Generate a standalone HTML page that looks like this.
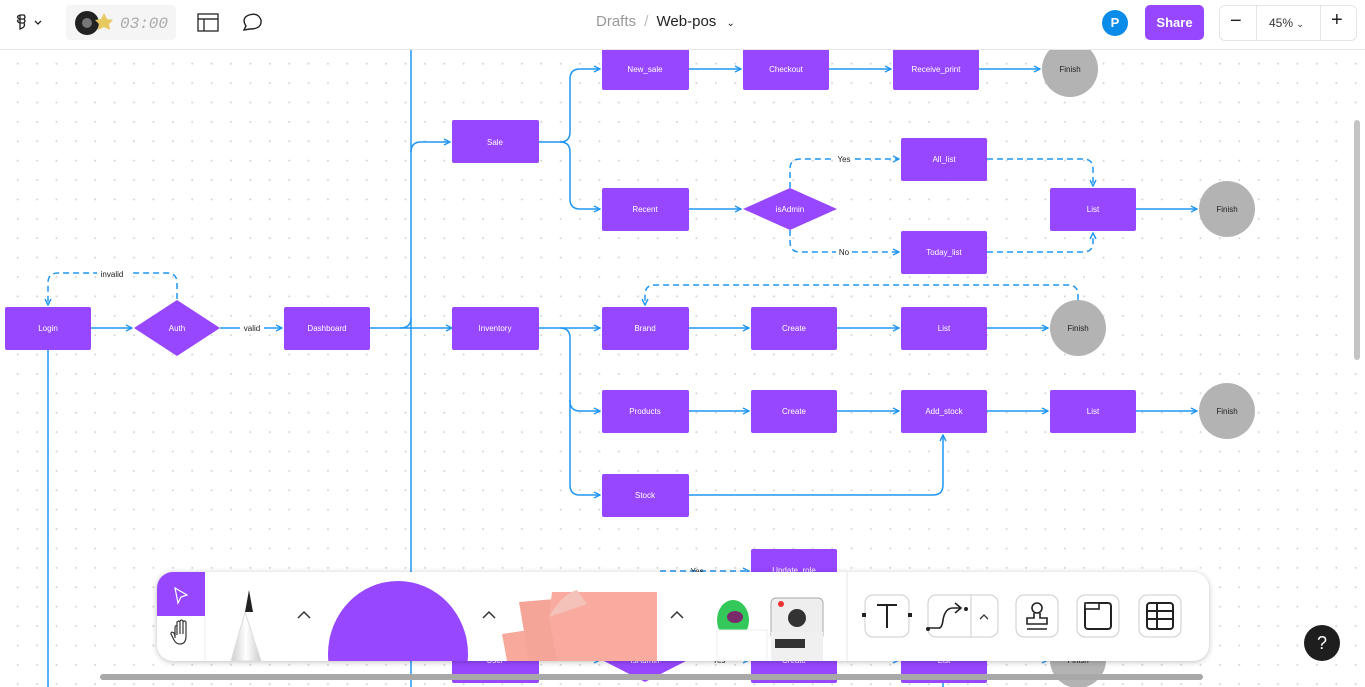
<!DOCTYPE html>
<html><head><meta charset="utf-8"><style>
*{margin:0;padding:0;box-sizing:border-box}
body{width:1365px;height:687px;overflow:hidden;font-family:"Liberation Sans",sans-serif;background:#fff;position:relative}
#canvas{position:absolute;left:0;top:50px;width:1365px;height:637px;background-color:#fff;background-image:radial-gradient(circle,#d4d4d4 0.8px,transparent 1.2px);background-size:19.4px 19.4px;background-position:8px 4px}
#hdr{position:absolute;left:0;top:0;width:1365px;height:50px;background:#fff;border-bottom:1px solid #e6e6e6}
.tb{position:absolute;left:157px;top:572px;width:1052px;height:89px;background:#fff;border-radius:16px;box-shadow:0 1px 6px rgba(0,0,0,.25);overflow:hidden}
</style></head><body>
<div id="canvas"></div>
<svg width="1365" height="687" style="position:absolute;left:0;top:0" font-family="Liberation Sans, sans-serif">
<defs><marker id="a" markerWidth="8" markerHeight="8" refX="7" refY="4" orient="auto" markerUnits="userSpaceOnUse"><path d="M1,1 L7,4 L1,7" fill="none" stroke="#2196f3" stroke-width="1.4"/></marker></defs>
<g fill="none" stroke="#2196f3" stroke-width="1.5">
<path d="M411 50V687"/><path d="M48 350V687"/>
<path d="M91 328H132" marker-end="url(#a)"/>
<path d="M220 328H282" marker-end="url(#a)"/>
<path d="M370 328H452" marker-end="url(#a)"/>
<path d="M400 328Q411 328 411 318"/>
<path d="M411 152Q411 142 421 142H450" marker-end="url(#a)"/>
<path d="M539 142H560Q570 142 570 132V79Q570 69 580 69H600" marker-end="url(#a)"/>
<path d="M560 142Q570 142 570 152V199Q570 209 580 209H600" marker-end="url(#a)"/>
<path d="M689 69H741" marker-end="url(#a)"/><path d="M829 69H891" marker-end="url(#a)"/><path d="M979 69H1040" marker-end="url(#a)"/>
<path d="M689 209H741" marker-end="url(#a)"/>
<path d="M1136 209H1197" marker-end="url(#a)"/>
<path d="M539 328H600" marker-end="url(#a)"/>
<path d="M560 328Q570 328 570 338V401Q570 411 580 411H600" marker-end="url(#a)"/>
<path d="M570 400V485Q570 495 580 495H600" marker-end="url(#a)"/>
<path d="M689 328H749" marker-end="url(#a)"/><path d="M837 328H899" marker-end="url(#a)"/><path d="M987 328H1048" marker-end="url(#a)"/>
<path d="M689 411H749" marker-end="url(#a)"/><path d="M837 411H899" marker-end="url(#a)"/><path d="M987 411H1048" marker-end="url(#a)"/><path d="M1136 411H1197" marker-end="url(#a)"/>
<path d="M689 495H933Q943 495 943 485V435" marker-end="url(#a)"/>
<path d="M539 660H600" marker-end="url(#a)"/><path d="M689 660H749" marker-end="url(#a)"/><path d="M837 660H899" marker-end="url(#a)"/><path d="M987 660H1048" marker-end="url(#a)"/>
<path d="M943 683V687"/>
</g>
<g fill="none" stroke="#2196f3" stroke-width="1.5" stroke-dasharray="6,4">
<path d="M177 299V283Q177 273 167 273H58Q48 273 48 283V305" marker-end="url(#a)"/>
<path d="M790 188V169Q790 159 800 159H899" marker-end="url(#a)"/>
<path d="M790 230V242Q790 252 800 252H899" marker-end="url(#a)"/>
<path d="M987 159H1083Q1093 159 1093 169V186" marker-end="url(#a)"/>
<path d="M987 252H1083Q1093 252 1093 242V233" marker-end="url(#a)"/>
<path d="M1078 300V295Q1078 285 1068 285H655Q645 285 645 295V305" marker-end="url(#a)"/>
<path d="M660 571H749" marker-end="url(#a)"/>
<path d="M689 660H749"/>
</g>
<g font-size="8" fill="#222" text-anchor="middle">
<rect x="97" y="268" width="32" height="11" fill="#fff"/><text x="112" y="277">invalid</text>
<rect x="240" y="323" width="24" height="11" fill="#fff"/><text x="252" y="331">valid</text>
<rect x="834" y="154" width="20" height="11" fill="#fff"/><text x="844" y="162">Yes</text>
<rect x="836" y="247" width="16" height="11" fill="#fff"/><text x="844" y="255">No</text>
<text x="697" y="574">Yes</text><text x="719" y="663">Yes</text>
</g>
<g fill="#9747ff">
<rect x="5" y="307" width="86" height="43" rx="2"/>
<polygon points="134,328 177,300 220,328 177,356"/>
<rect x="284" y="307" width="86" height="43" rx="2"/>
<rect x="452" y="120" width="87" height="43" rx="2"/>
<rect x="602" y="48" width="87" height="42" rx="2"/><rect x="743" y="48" width="86" height="42" rx="2"/><rect x="893" y="48" width="86" height="42" rx="2"/>
<rect x="602" y="188" width="87" height="43" rx="2"/>
<polygon points="743,209 790,188 837,209 790,230"/>
<rect x="901" y="138" width="86" height="43" rx="2"/><rect x="901" y="231" width="86" height="43" rx="2"/>
<rect x="1050" y="188" width="86" height="43" rx="2"/>
<rect x="452" y="307" width="87" height="43" rx="2"/>
<rect x="602" y="307" width="87" height="43" rx="2"/><rect x="751" y="307" width="86" height="43" rx="2"/><rect x="901" y="307" width="86" height="43" rx="2"/>
<rect x="602" y="390" width="87" height="43" rx="2"/><rect x="751" y="390" width="86" height="43" rx="2"/><rect x="901" y="390" width="86" height="43" rx="2"/><rect x="1050" y="390" width="86" height="43" rx="2"/>
<rect x="602" y="474" width="87" height="43" rx="2"/>
<rect x="751" y="549" width="86" height="43" rx="2"/>
<rect x="452" y="640" width="87" height="43" rx="2"/>
<polygon points="602,660 645,640 688,660 645,682"/>
<rect x="751" y="640" width="86" height="43" rx="2"/><rect x="901" y="640" width="86" height="43" rx="2"/>
</g>
<g fill="#b3b3b3"><circle cx="1070" cy="69" r="28"/><circle cx="1227" cy="209" r="28"/><circle cx="1078" cy="328" r="28"/><circle cx="1227" cy="411" r="28"/><circle cx="1078" cy="660" r="28"/></g>
<g font-size="8" fill="#fff" text-anchor="middle">
<text x="48" y="331">Login</text><text x="177" y="331">Auth</text><text x="327" y="331">Dashboard</text>
<text x="495" y="145">Sale</text><text x="645" y="72">New_sale</text><text x="786" y="72">Checkout</text><text x="936" y="72">Receive_print</text>
<text x="645" y="212">Recent</text><text x="790" y="212">isAdmin</text><text x="944" y="162">All_list</text><text x="944" y="255">Today_list</text><text x="1093" y="212">List</text>
<text x="495" y="331">Inventory</text><text x="645" y="331">Brand</text><text x="794" y="331">Create</text><text x="944" y="331">List</text>
<text x="645" y="414">Products</text><text x="794" y="414">Create</text><text x="944" y="414">Add_stock</text><text x="1093" y="414">List</text>
<text x="645" y="498">Stock</text><text x="794" y="573">Update_role</text>
<text x="495" y="663">User</text><text x="645" y="663">IsAdmin</text><text x="794" y="663">Create</text><text x="944" y="663">List</text>
</g>
<g font-size="8" fill="#222" text-anchor="middle"><text x="1070" y="72">Finish</text><text x="1227" y="212">Finish</text><text x="1078" y="331">Finish</text><text x="1227" y="414">Finish</text><text x="1078" y="663">Finish</text></g>
<rect x="1354" y="120" width="6" height="240" rx="3" fill="#c4c4c4"/>
</svg>

<div class="tb">
<div style="position:absolute;left:0;top:0;width:48px;height:44px;background:#9747ff"></div>
<svg width="1052" height="89" style="position:absolute;left:0;top:0">
<path d="M18 16L30 23L24 25L21 31Z" fill="none" stroke="#fff" stroke-width="1.2"/>
<path d="M18 66V56Q18 53 20 54V63M20 54V50Q22 48 23 50V62M23 50V49Q25 47 26 49V62M26 50Q28 48 29 50V64Q29 72 23 72Q19 72 17 68L14 62Q14 59 17 61L18 64" fill="none" stroke="#333" stroke-width="1.2"/>
<line x1="48" y1="44" x2="48" y2="89" stroke="#eee"/>
<defs><linearGradient id="p" x1="0" x2="1"><stop offset="0" stop-color="#ccc"/><stop offset=".5" stop-color="#fff"/><stop offset="1" stop-color="#ccc"/></linearGradient></defs>
<path d="M74 89L88 40L104 89Z" fill="url(#p)" stroke="#ddd"/><path d="M92 18L88 40H96Z" fill="#222"/>
<path d="M141 46L147 40L153 46" fill="none" stroke="#333" stroke-width="1.5"/>
<ellipse cx="241" cy="82" rx="70" ry="73" fill="#9747ff"/>
<path d="M326 46L332 40L338 46" fill="none" stroke="#333" stroke-width="1.5"/>
<path d="M345 62L385 56L395 89H350Z" fill="#f7a99b"/><path d="M362 30L410 26L420 89H372Z" fill="#f5a597"/>
<path d="M395 20H500V89H400L392 45Z" fill="#f8ab9e"/><path d="M392 45Q405 22 420 18L430 32Z" fill="#f4c2b8"/>
<path d="M514 46L520 40L526 46" fill="none" stroke="#333" stroke-width="1.5"/>
<ellipse cx="576" cy="48" rx="16" ry="20" fill="#34c759"/><ellipse cx="578" cy="45" rx="8" ry="6" fill="#7a2a6a"/>
<rect x="614" y="26" width="52" height="42" rx="5" fill="#eee" stroke="#aaa"/><circle cx="640" cy="46" r="9" fill="#333"/><circle cx="624" cy="32" r="3" fill="#e33"/>
<rect x="560" y="58" width="50" height="31" fill="#fff" stroke="#eee"/><rect x="614" y="60" width="52" height="29" fill="#f0f0f0"/><rect x="618" y="67" width="30" height="9" fill="#333"/>
<line x1="690" y1="0" x2="690" y2="89" stroke="#e5e5e5"/>
<rect x="708" y="23" width="44" height="42" rx="8" fill="none" stroke="#ccc"/><path d="M720 33H740M730 33V56" stroke="#222" stroke-width="2"/><rect x="705" y="41" width="4" height="4" fill="#222"/><rect x="751" y="41" width="4" height="4" fill="#222"/>
<rect x="771" y="23" width="70" height="42" rx="8" fill="none" stroke="#ccc"/><line x1="814" y1="23" x2="814" y2="65" stroke="#ccc"/><path d="M772 56H782Q785 56 786 48Q788 36 796 36H803M798 31L804 36L798 41" fill="none" stroke="#222" stroke-width="1.6"/><circle cx="771" cy="57" r="2" fill="#222"/><circle cx="809" cy="37" r="2" fill="#222"/><path d="M823 47L827 43L831 47" fill="none" stroke="#333" stroke-width="1.3"/>
<rect x="859" y="23" width="42" height="42" rx="8" fill="none" stroke="#ccc"/><circle cx="880" cy="36" r="5" fill="none" stroke="#222" stroke-width="1.6"/><path d="M877 41V46H870V52H890V46H883V41M870 57H890" fill="none" stroke="#222" stroke-width="1.6"/>
<rect x="920" y="23" width="42" height="42" rx="8" fill="none" stroke="#ccc"/><rect x="928" y="31" width="26" height="26" rx="3" fill="none" stroke="#222" stroke-width="2"/><rect x="928" y="31" width="14" height="6" fill="#fff" stroke="#222" stroke-width="1.6"/>
<rect x="982" y="23" width="42" height="42" rx="8" fill="none" stroke="#ccc"/><rect x="990" y="31" width="26" height="26" rx="3" fill="none" stroke="#222" stroke-width="2"/><path d="M990 39H1016M990 47H1016M1000 31V57" stroke="#222" stroke-width="2"/>
</svg></div>
<div style="position:absolute;left:100px;top:674px;width:1103px;height:6px;border-radius:3px;background:#a8a8a8"></div>
<div style="position:absolute;left:1304px;top:625px;width:36px;height:36px;border-radius:50%;background:#1e1e1e;color:#fff;font-size:18px;text-align:center;line-height:36px">?</div>

<div id="hdr">
<svg width="460" height="50" style="position:absolute;left:0;top:0">
<g fill="none" stroke="#222" stroke-width="1.3"><path d="M20 15H24Q26 17 24 19H20Z M20 19H24Q26 21 24 23H20Z M20 23H24Q26 27 20 29Z M20 15Q15 17 20 19 M20 19Q15 21 20 23"/><path d="M35 21L38 24L41 21"/></g>
<rect x="66" y="5" width="110" height="35" rx="4" fill="#f5f5f5"/>
<circle cx="87" cy="23" r="12" fill="#222"/><circle cx="87" cy="23" r="5" fill="#777"/>
<path d="M104 13L107 19L113 20L109 24L110 30L104 27L98 30L99 24L95 20L101 19Z" fill="#e8c860"/>
<text x="120" y="28" font-size="16" fill="#aaa" font-style="italic" font-family="Liberation Mono, monospace">03:00</text>
<rect x="198" y="14" width="20" height="17" fill="none" stroke="#333" stroke-width="1.4"/><path d="M198 19H218M204 19V31" stroke="#333" stroke-width="1.4"/>
<path d="M244 30L246 26Q241 18 249 15Q258 12 261 20Q262 29 250 29Z" fill="none" stroke="#222" stroke-width="1.4"/>
</svg>
<div style="position:absolute;left:596px;top:13px;font-size:15px;color:#999">Drafts <span style="color:#bbb;margin:0 4px">/</span> <span style="color:#222">Web-pos</span> <span style="font-size:10px;color:#222;margin-left:6px">&#8964;</span></div>
<div style="position:absolute;left:1102px;top:10px;width:26px;height:26px;border-radius:50%;background:#0c8ce9;color:#fff;font-size:13px;font-weight:bold;text-align:center;line-height:26px">P</div>
<div style="position:absolute;left:1145px;top:5px;width:59px;height:35px;border-radius:5px;background:#9747ff;color:#fff;font-size:13px;font-weight:bold;text-align:center;line-height:35px">Share</div>
<div style="position:absolute;left:1219px;top:5px;width:138px;height:36px;border:1px solid #e5e5e5;border-radius:6px">
<div style="position:absolute;left:36px;top:0;width:1px;height:34px;background:#e5e5e5"></div>
<div style="position:absolute;left:100px;top:0;width:1px;height:34px;background:#e5e5e5"></div>
<div style="position:absolute;left:10px;top:4px;font-size:20px;color:#222">&minus;</div>
<div style="position:absolute;left:49px;top:10px;font-size:12px;color:#333">45% <span style="font-size:9px">&#8964;</span></div>
<div style="position:absolute;left:111px;top:3px;font-size:20px;color:#222">+</div>
</div>
</div>
</body></html>
